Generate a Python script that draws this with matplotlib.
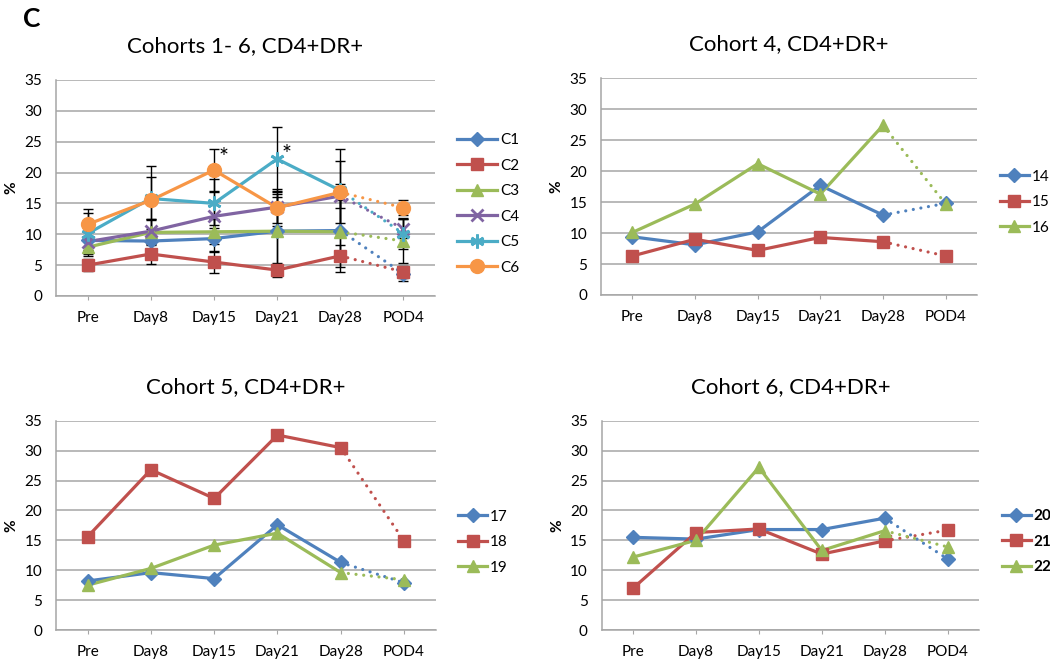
import matplotlib
matplotlib.use("Agg")
import matplotlib.pyplot as plt
from matplotlib.lines import Line2D
import numpy as np

plt.rcParams['font.family'] = ['Lato', 'DejaVu Sans']

categories = ["Pre", "Day8", "Day15", "Day21", "Day28", "POD4"]

# Panel 1: cohorts 1-6 (means with error bars)
c1 = [9.0, 8.9, 9.3, 10.5, 10.6, 3.6]
c2 = [5.0, 6.8, 5.5, 4.2, 6.5, 3.9]
c3 = [7.9, 10.3, 10.4, 10.5, 10.4, 8.9]
c4 = [8.8, 10.5, 12.9, 14.4, 16.2, 10.9]
c5 = [10.1, 15.8, 15.0, 22.2, 17.1, 10.1]
c6 = [11.6, 15.5, 20.4, 14.3, 16.8, 14.3]
c1_err = [1.5, 2.0, 2.2, 5.5, 5.0, 1.1]
c2_err = [1.0, 1.6, 1.8, 1.1, 1.8, 1.0]
c3_err = [1.5, 2.0, 2.0, 6.0, 6.5, 3.5]
c4_err = [1.5, 1.9, 4.0, 2.5, 2.0, 1.5]
c5_err = [3.3, 3.4, 4.0, 5.2, 6.7, 2.5]
c6_err = [2.5, 5.6, 3.4, 3.0, 5.0, 1.2]
p1_labels = ["C1", "C2", "C3", "C4", "C5", "C6"]

# Panel 2: cohort 4
s14 = [9.4, 8.1, 10.2, 17.7, 12.9, 14.8]
s15 = [6.3, 9.0, 7.2, 9.3, 8.6, 6.3]
s16 = [10.1, 14.7, 21.2, 16.3, 27.4, 14.7]
p2_labels = ["14", "15", "16"]

# Panel 3: cohort 5
s17 = [8.2, 9.6, 8.6, 17.6, 11.3, 7.9]
s18 = [15.6, 26.8, 22.0, 32.6, 30.5, 14.9]
s19 = [7.5, 10.3, 14.2, 16.2, 9.6, 8.4]
p3_labels = ["17", "18", "19"]

# Panel 4: cohort 6
s20 = [15.5, 15.2, 16.8, 16.8, 18.7, 11.9]
s21 = [7.0, 16.3, 16.9, 12.7, 14.9, 16.7]
s22 = [12.2, 15.0, 27.2, 13.3, 16.6, 13.9]
p4_labels = ["20", "21", "22"]

BLUE, RED, GREEN = "#4F81BD", "#C0504D", "#9BBB59"
PURPLE, CYAN, ORANGE = "#8064A2", "#4BACC6", "#F79646"
GRID = "#A6A6A6"

fig = plt.figure(figsize=(10.5, 6.62), dpi=100)

LW = 2.3
MS = 7.5
DOT = (0, (0.01, 2.4))
FS = 11


def style_axes(ax, title):
    ax.set_xlim(-0.5, 5.5)
    ax.set_ylim(0, 35)
    ax.set_yticks(range(0, 36, 5))
    ax.set_xticks(range(len(categories)))
    ax.set_xticklabels(categories, fontsize=FS)
    ax.tick_params(axis='y', length=0, labelsize=FS, pad=10)
    ax.tick_params(axis='x', length=3, color=GRID, pad=8)
    ax.grid(axis='y', color=GRID, linewidth=1.1)
    ax.set_axisbelow(True)
    for s in ['top', 'right']:
        ax.spines[s].set_visible(False)
    for s in ['left', 'bottom']:
        ax.spines[s].set_color(GRID)
        ax.spines[s].set_linewidth(1.1)
    ax.set_ylabel('%', fontsize=11, fontweight='bold')
    ax.yaxis.set_label_coords(-0.1, 0.5)
    ax.set_title(title, fontsize=16, pad=20)


def draw_series(ax, vals, color, marker, ms=MS, mew=1.0):
    x = np.arange(len(vals))
    ax.plot(x[:5], vals[:5], color=color, lw=LW, zorder=3)
    ax.plot(x[4:], vals[4:], color=color, lw=LW, linestyle=DOT,
            dash_capstyle='round', zorder=3)
    ax.plot(x, vals, linestyle='none', marker=marker, markersize=ms,
            color=color, markeredgecolor=color, markeredgewidth=mew, zorder=4)


def add_legend(ax, labels, colors, markers, ax_x, ax_y, bold=False, hl=2.6,
               mss=None):
    handles = []
    for i, (c, m) in enumerate(zip(colors, markers)):
        ms = mss[i] if mss else MS
        mew = 2.0 if m in ('x', (6, 2, 0)) else 1.0
        handles.append(Line2D([0], [0], color=c, lw=LW, marker=m,
                              markersize=ms, markeredgecolor=c,
                              markeredgewidth=mew))
    leg = ax.legend(handles, labels, loc='center left',
                    bbox_to_anchor=(ax_x, ax_y), frameon=False,
                    handlelength=hl, handletextpad=0.2, borderpad=0,
                    borderaxespad=0, labelspacing=0.75,
                    prop={'size': FS, 'weight': 'bold' if bold else 'normal'})
    return leg


# Panel 1
ax1 = fig.add_axes([0.0533, 0.5529, 0.3610, 0.3263])
style_axes(ax1, "Cohorts 1- 6, CD4+DR+")
p1_vals = [c1, c2, c3, c4, c5, c6]
p1_errs = [c1_err, c2_err, c3_err, c4_err, c5_err, c6_err]
p1_colors = [BLUE, RED, GREEN, PURPLE, CYAN, ORANGE]
p1_markers = ['D', 's', '^', 'x', (6, 2, 0), 'o']
p1_ms = [7, 8.5, 9, 9, 10, 10]
xi = np.arange(len(categories))
for v, e in zip(p1_vals, p1_errs):
    ax1.errorbar(xi, v, yerr=e, fmt='none', ecolor='black', elinewidth=1.0,
                 capsize=3.5, capthick=1.0, zorder=2)
for v, c, m, ms in zip(p1_vals, p1_colors, p1_markers, p1_ms):
    mew = 2.0 if m in ('x', (6, 2, 0)) else 1.0
    draw_series(ax1, v, c, m, ms=ms, mew=mew)
ax1.text(2.15, 22.4, '*', fontsize=17, ha='center', va='center', zorder=5)
ax1.text(3.15, 22.9, '*', fontsize=17, ha='center', va='center', zorder=5)
add_legend(ax1, p1_labels, p1_colors, p1_markers, 1.058, 0.426, mss=p1_ms)

# Panel 2
ax2 = fig.add_axes([0.5724, 0.5544, 0.3581, 0.3273])
style_axes(ax2, "Cohort 4, CD4+DR+")
for v, c, m in zip([s14, s15, s16], [BLUE, RED, GREEN], ['D', 's', '^']):
    draw_series(ax2, v, c, m, ms={'D': 7, 's': 8.5, '^': 9}[m])
add_legend(ax2, p2_labels, [BLUE, RED, GREEN], ['D', 's', '^'], 1.061, 0.428,
           hl=1.9, mss=[7, 8.5, 9])

# Panel 3
ax3 = fig.add_axes([0.0533, 0.0483, 0.3616, 0.3162])
style_axes(ax3, "Cohort 5, CD4+DR+")
for v, c, m in zip([s17, s18, s19], [BLUE, RED, GREEN], ['D', 's', '^']):
    draw_series(ax3, v, c, m, ms={'D': 7, 's': 8.5, '^': 9}[m])
add_legend(ax3, p3_labels, [BLUE, RED, GREEN], ['D', 's', '^'], 1.059, 0.42,
           hl=1.9, mss=[7, 8.5, 9])

# Panel 4
ax4 = fig.add_axes([0.5730, 0.0483, 0.3594, 0.3162])
style_axes(ax4, "Cohort 6, CD4+DR+")
for v, c, m in zip([s20, s21, s22], [BLUE, RED, GREEN], ['D', 's', '^']):
    draw_series(ax4, v, c, m, ms={'D': 7, 's': 8.5, '^': 9}[m])
add_legend(ax4, p4_labels, [BLUE, RED, GREEN], ['D', 's', '^'], 1.060, 0.422,
           bold=True, hl=1.9, mss=[7, 8.5, 9])

fig.text(0.022, 0.99, "C", fontsize=19, fontweight='bold', va='top', ha='left')

fig.savefig("out.png", dpi=100)
